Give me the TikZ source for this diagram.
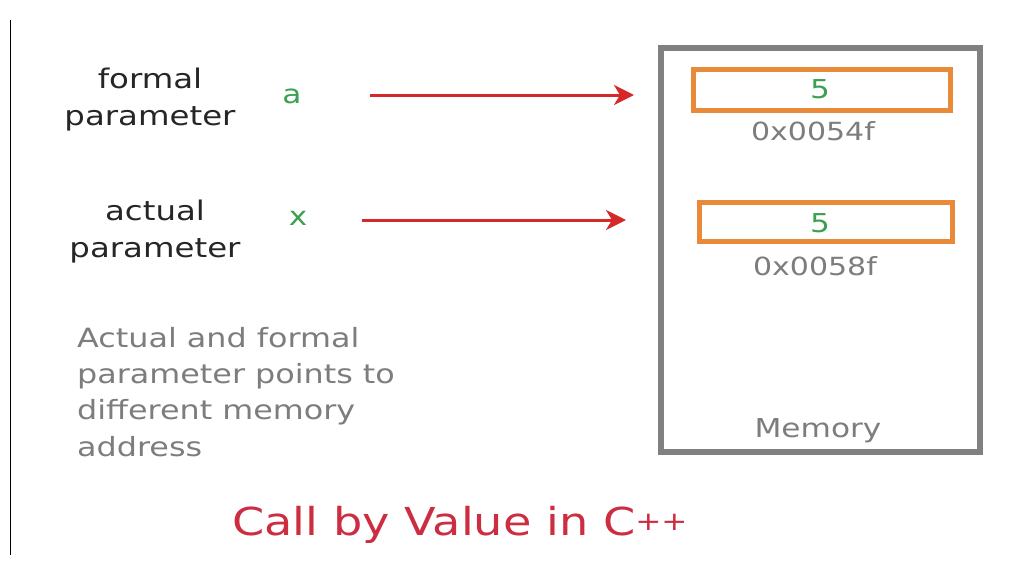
\documentclass[tikz,border=0pt]{standalone}
\usepackage{fontspec}
\setmainfont{DejaVu Sans}[FakeStretch=1.2]
\usetikzlibrary{arrows.meta}
\definecolor{mygray}{RGB}{128,128,128}
\definecolor{txtgray}{RGB}{125,125,125}
\definecolor{myorange}{RGB}{233,138,58}
\definecolor{mygreen}{RGB}{60,160,80}
\definecolor{myred}{RGB}{214,40,40}
\definecolor{titlered}{RGB}{205,45,65}
\begin{document}
\begin{tikzpicture}[x=1pt,y=-1pt,
  lbl/.style={inner sep=0pt,align=center,text=black!85,font=\fontsize{27}{37}\selectfont},
  var/.style={inner sep=0pt,text=mygreen,font=\fontsize{26}{30}\selectfont},
  cell/.style={draw=myorange,line width=5pt,inner sep=0pt},
  addr/.style={inner sep=0pt,text=txtgray,font=\fontsize{25}{28}\selectfont},
  ptr/.style={draw=myred,line width=3pt,-{Stealth[length=20pt,width=20pt,inset=6pt]}}]
\useasboundingbox (0,0) rectangle (1023,563);
\fill[white] (0,0) rectangle (1023,563);
% left rule
\coordinate (ltop) at (10.5,20);
\coordinate (lbot) at (10.5,555);
\draw[line width=1.3pt,black] (ltop) -- (lbot);
% memory
\node[draw=mygray,line width=6pt,inner sep=0pt,minimum width=319pt,minimum height=404pt] (mem) at (820.5,250) {};
\node[addr,font=\fontsize{26}{28}\selectfont] (memlbl) at (818,431) {Memory};
\node[cell,minimum width=257pt,minimum height=41pt] (c1) at (822,90) {};
\node[cell,minimum width=253pt,minimum height=39pt] (c2) at (826,222) {};
\node[var] (v1) at (820,89) {5};
\node[var] (v2) at (820,223) {5};
\node[addr] (ad1) at (813,131) {0x0054f};
\node[addr] (ad2) at (815,266) {0x0058f};
% labels
\node[lbl] (formal) at (150,100) {formal\\parameter};
\node[lbl] (actual) at (155,232) {actual\\parameter};
\node[var] (a) at (292,96) {a};
\node[var] (x) at (298,218) {x};
\coordinate (p1s) at (370,95);
\coordinate (p1e) at (634,95);
\coordinate (p2s) at (362,220);
\coordinate (p2e) at (626,220);
\draw[ptr] (p1s) -- (p1e);
\draw[ptr] (p2s) -- (p2e);
% comment
\node[anchor=north west,inner sep=0pt,align=left,text=txtgray,font=\fontsize{26.5}{36.3}\selectfont] (note) at (77,327) {Actual and formal\\parameter points to\\different memory\\address};
% title
\node[inner sep=0pt,text=titlered,font=\fontsize{38.5}{40}\selectfont] (title) at (460,525) {Call by Value in C{\fontsize{26}{28}\selectfont\raisebox{5pt}{++}}};
\end{tikzpicture}
\end{document}
